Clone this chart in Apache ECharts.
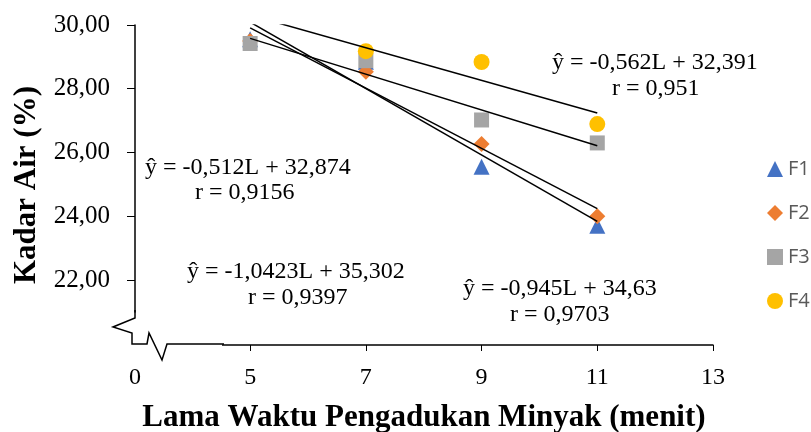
<!DOCTYPE html>
<html>
<head>
<meta charset="utf-8">
<script src="https://cdn.jsdelivr.net/npm/echarts@6/dist/echarts.min.js"></script>
<style>
html, body { margin: 0; padding: 0; background: #fff; }
#chart { width: 811px; height: 432px; }
</style>
</head>
<body>
<div id="chart"></div>
<script>
// data
const waktu = [5, 7, 9, 11];
const f1 = [29.55, 28.85, 25.55, 23.7];
const f2 = [29.5, 28.53, 26.27, 24.0];
const f3 = [29.42, 28.88, 27.02, 26.3];
const f4 = [null, 29.18, 28.84, 26.89];

// trend line end points (from the printed equations, L = 5 and L = 11)
const trendF1 = [[5, 30.09], [11, 23.84]];
const trendF2 = [[5, 29.91], [11, 24.24]];
const trendF3 = [[5, 29.58], [11, 26.21]];
const trendF4 = [[5, 30.31], [11, 27.24]];

const xTicks = [0, 5, 7, 9, 11, 13];
const yTicks = [22, 24, 26, 28, 30];

const serif = 'Liberation Serif';

const pairs = (ys) => waktu.map((x, i) => [x, ys[i]]);

const chart = echarts.init(document.getElementById('chart'));

const scatter = (name, data, symbol, color, size) => ({
  name: name,
  type: 'scatter',
  data: pairs(data),
  symbol: symbol,
  symbolSize: size,
  itemStyle: { color: color, opacity: 1 },
  z: 2
});

const trend = (name, data) => ({
  name: name,
  type: 'line',
  data: data,
  symbol: 'none',
  lineStyle: { color: '#000', width: 1.5 },
  clip: true,
  z: 3
});

const note = (text, left, top) => ({
  type: 'text',
  left: left,
  top: top,
  style: { text: text, font: '24px "Liberation Serif"', fill: '#000' }
});

chart.setOption({
  animation: false,
  grid: { left: 135, top: 25, width: 578, height: 320, outerBoundsMode: 'none' },
  legend: {
    data: ['F1', 'F2', 'F3', 'F4'],
    orient: 'vertical',
    left: 762,
    top: 154,
    itemGap: 24,
    itemWidth: 16,
    itemHeight: 16,
    textStyle: { fontFamily: 'Open Sans', fontSize: 20, color: '#595959' }
  },
  xAxis: {
    type: 'value',
    min: 0,
    max: 13,
    breaks: [{ start: 0.5, end: 4.5, gap: 0.99 }],
    breakArea: { show: false },
    name: 'Lama Waktu Pengadukan Minyak (menit)',
    nameLocation: 'middle',
    nameGap: 57,
    nameTextStyle: { fontFamily: serif, fontWeight: 'bold', fontSize: 31, color: '#000' },
    axisLine: { lineStyle: { color: '#000', width: 1.5 } },
    axisTick: { customValues: xTicks, length: 6, lineStyle: { color: '#000' } },
    axisLabel: { customValues: xTicks, fontFamily: serif, fontSize: 24, color: '#000', margin: 21 },
    splitLine: { show: false }
  },
  yAxis: {
    type: 'value',
    min: 0,
    max: 30,
    breaks: [{ start: 0.5, end: 21, gap: 0.54 }],
    breakArea: { show: false },
    name: 'Kadar Air (%)',
    nameLocation: 'middle',
    nameGap: 92,
    nameRotate: 90,
    nameTextStyle: { fontFamily: serif, fontWeight: 'bold', fontSize: 31, color: '#000' },
    axisLine: { show: true, lineStyle: { color: '#000', width: 1.5 } },
    axisTick: { show: true, customValues: yTicks, length: 8, lineStyle: { color: '#000' } },
    axisLabel: {
      customValues: yTicks,
      fontFamily: serif,
      fontSize: 25,
      color: '#000',
      margin: 25,
      formatter: (v) => v.toFixed(2).replace('.', ',')
    },
    splitLine: { show: false }
  },
  series: [
    scatter('F1', f1, 'triangle', '#4472C4', 16),
    scatter('F2', f2, 'diamond', '#ED7D31', 16),
    scatter('F3', f3, 'rect', '#A5A5A5', 15),
    scatter('F4', f4, 'circle', '#FFC000', 16),
    trend('Linear F1', trendF1),
    trend('Linear F2', trendF2),
    trend('Linear F3', trendF3),
    trend('Linear F4', trendF4)
  ],
  graphic: [
    note('ŷ = -0,562L + 32,391', 552, 51),
    note('r = 0,951', 612, 77),
    note('ŷ = -0,512L + 32,874', 145, 156),
    note('r = 0,9156', 195, 181),
    note('ŷ = -1,0423L + 35,302', 187, 260),
    note('r = 0,9397', 248, 286),
    note('ŷ = -0,945L + 34,63', 463, 277),
    note('r = 0,9703', 510, 303),
    // hand drawn axis break marks
    { type: 'rect', shape: { x: 128, y: 313, width: 94, height: 42 }, style: { fill: '#fff' }, z: 50 },
    {
      type: 'polyline',
      shape: { points: [[135, 310], [135, 318], [113, 327], [132, 333], [132, 344], [147, 344], [149, 333], [162, 360], [167, 344], [224, 344]] },
      style: { stroke: '#000', lineWidth: 1.5, fill: null },
      z: 51
    }
  ]
});
</script>
</body>
</html>
